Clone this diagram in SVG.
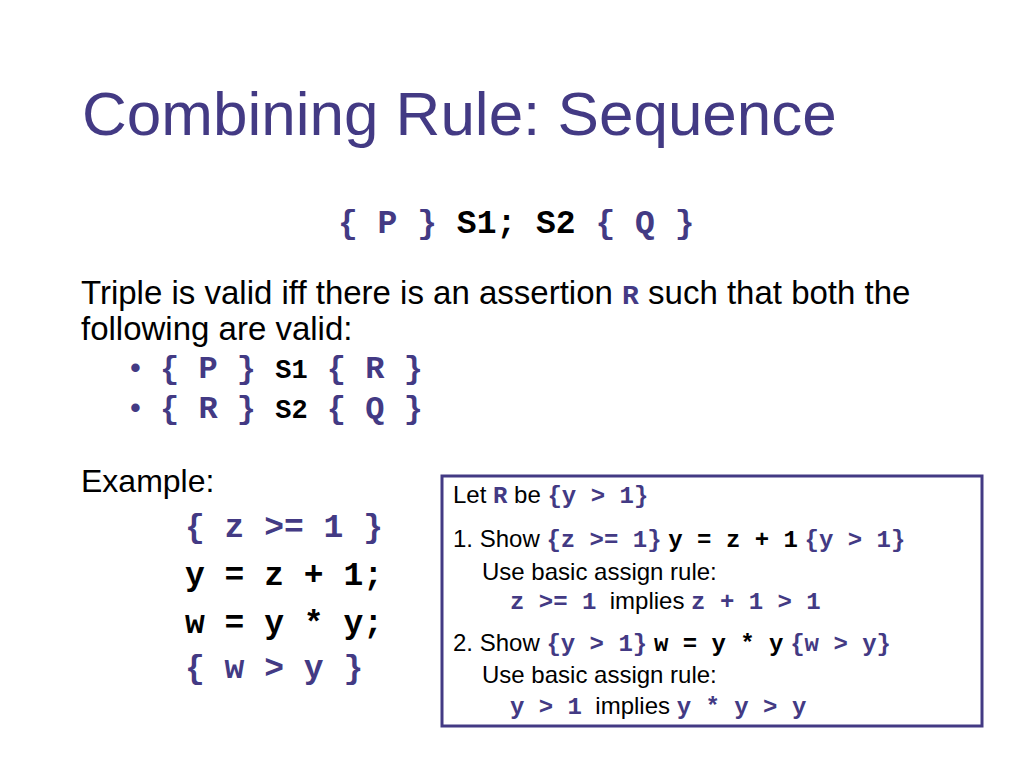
<svg xmlns="http://www.w3.org/2000/svg" width="1024" height="768" viewBox="0 0 1024 768">
<style>
text{white-space:pre;font-family:"Liberation Sans",Arial,sans-serif;fill:#000}
.m{font-family:"Liberation Mono","Courier New",monospace;font-weight:bold}
.p{fill:#433a84}
</style>
<rect width="1024" height="768" fill="#fff"/>
<text x="82" y="135" font-size="62" class="p">Combining Rule: Sequence</text>
<text x="338" y="233" font-size="33" class="m"><tspan class="p">{ P }</tspan> S1; S2 <tspan class="p">{ Q }</tspan></text>
<text x="81" y="304" font-size="33">Triple is valid iff there is an assertion <tspan class="m p" font-size="28">R</tspan> such that both the</text>
<text x="81" y="340" font-size="33">following are valid:</text>
<text x="130" y="378" font-size="31" class="p">•</text>
<text x="160" y="378" font-size="32" class="m"><tspan class="p">{ P }</tspan> <tspan font-size="27">S1</tspan> <tspan class="p">{ R }</tspan></text>
<text x="130" y="418" font-size="31" class="p">•</text>
<text x="160" y="418" font-size="32" class="m"><tspan class="p">{ R }</tspan> <tspan font-size="27">S2</tspan> <tspan class="p">{ Q }</tspan></text>
<text x="81" y="492" font-size="32">Example:</text>
<g font-size="33">
<text x="185" y="537" class="m p">{ z &gt;= 1 }</text>
<text x="185" y="585" class="m">y = z + 1;</text>
<text x="185" y="633" class="m">w = y * y;</text>
<text x="185" y="678" class="m p">{ w &gt; y }</text>
</g>
<g id="box">
<rect x="442" y="476" width="540" height="250" fill="none" stroke="#433a84" stroke-width="3"/>
<text x="453" y="503" font-size="24">Let <tspan class="m p" font-size="24">R</tspan> be <tspan class="m p" font-size="24">{y &gt; 1}</tspan></text>
<text x="453" y="547" font-size="24">1. Show <tspan class="m p" font-size="24">{z &gt;= 1}</tspan> <tspan class="m" font-size="24">y = z + 1</tspan> <tspan class="m p" font-size="24">{y &gt; 1}</tspan></text>
<text x="482" y="580" font-size="24">Use basic assign rule:</text>
<text x="510" y="609" font-size="24"><tspan class="m p" font-size="24">z &gt;= 1</tspan>  implies <tspan class="m p" font-size="24">z + 1 &gt; 1</tspan></text>
<text x="453" y="651" font-size="24">2. Show <tspan class="m p" font-size="24">{y &gt; 1}</tspan> <tspan class="m" font-size="24">w = y * y</tspan> <tspan class="m p" font-size="24">{w &gt; y}</tspan></text>
<text x="482" y="683" font-size="24">Use basic assign rule:</text>
<text x="510" y="714" font-size="24"><tspan class="m p" font-size="24">y &gt; 1</tspan>  implies <tspan class="m p" font-size="24">y * y &gt; y</tspan></text>
</g>
</svg>
